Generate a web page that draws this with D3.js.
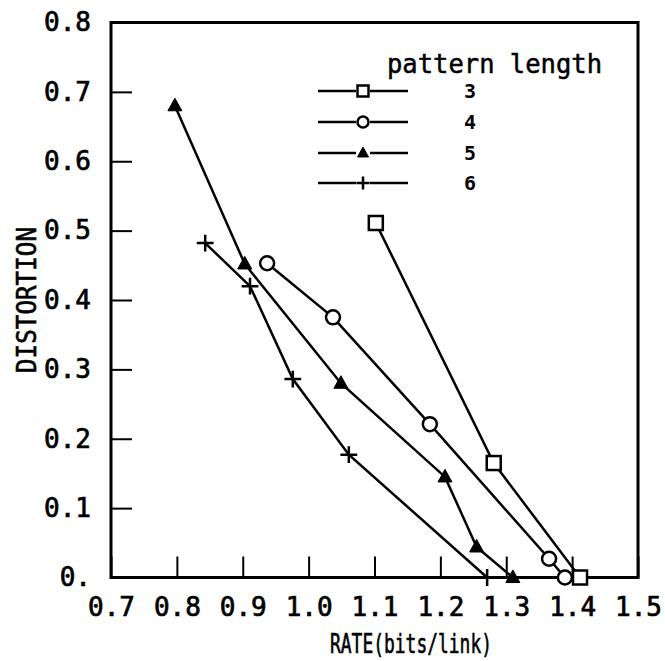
<!DOCTYPE html>
<html>
<head>
<meta charset="utf-8">
<script src="https://cdn.jsdelivr.net/npm/d3@7"></script>
<style>
  html, body { margin: 0; padding: 0; background: #fff; }
  svg { display: block; }
  text { font-family: "DejaVu Sans Mono", monospace; fill: #000; }
</style>
</head>
<body>
<svg id="chart" width="665" height="661"></svg>
<script>
// Rate–distortion curves for several pattern lengths
const xTicks = [0.7, 0.8, 0.9, 1.0, 1.1, 1.2, 1.3, 1.4, 1.5];
const xTickLabels = ["0.7", "0.8", "0.9", "1.0", "1.1", "1.2", "1.3", "1.4", "1.5"];
const yTicks = [0, 0.1, 0.2, 0.3, 0.4, 0.5, 0.6, 0.7, 0.8];
const yTickLabels = ["0.", "0.1", "0.2", "0.3", "0.4", "0.5", "0.6", "0.7", "0.8"];

const patternLengths = ["3", "4", "5", "6"];
const markerKinds = ["square", "circle", "triangle", "plus"];

const rate3 = [1.102, 1.281, 1.412];
const dist3 = [0.511, 0.165, 0.0];

const rate4 = [0.937, 1.037, 1.184, 1.365, 1.389];
const dist4 = [0.453, 0.375, 0.221, 0.027, 0.0];

const rate5 = [0.797, 0.903, 1.049, 1.207, 1.255, 1.310];
const dist5 = [0.680, 0.452, 0.280, 0.145, 0.044, 0.0];

const rate6 = [0.843, 0.911, 0.976, 1.061, 1.271];
const dist6 = [0.482, 0.420, 0.286, 0.177, 0.0];

const rates = [rate3, rate4, rate5, rate6];
const dists = [dist3, dist4, dist5, dist6];

const series = patternLengths.map((name, i) => ({
  name,
  kind: markerKinds[i],
  points: rates[i].map((r, j) => ({ r, d: dists[i][j] }))
}));

const svg = d3.select("#chart");
const plotLeft = 111, plotRight = 638, plotTop = 22.5, plotBottom = 577.5;

const x = d3.scaleLinear().domain([0.7, 1.5]).range([plotLeft, plotRight]);
const y = d3.scaleLinear().domain([0, 0.8]).range([plotBottom, plotTop]);

// axes with inward ticks
const xAxis = d3.axisBottom(x)
  .tickValues(xTicks)
  .tickFormat((d, i) => xTickLabels[i])
  .tickSizeInner(-21).tickSizeOuter(0).tickPadding(20);
const yAxis = d3.axisLeft(y)
  .tickValues(yTicks)
  .tickFormat((d, i) => yTickLabels[i])
  .tickSizeInner(-21).tickSizeOuter(0).tickPadding(20);

const gx = svg.append("g").attr("transform", `translate(0,${plotBottom})`).call(xAxis);
const gy = svg.append("g").attr("transform", `translate(${plotLeft},0)`).call(yAxis);
[gx, gy].forEach(g => {
  g.select(".domain").remove();
  g.selectAll(".tick line").attr("stroke", "#000").attr("stroke-width", 2);
  g.selectAll(".tick text")
    .attr("font-family", "DejaVu Sans Mono, monospace")
    .attr("font-size", 26)
    .attr("fill", "#000")
    .attr("stroke", "#000").attr("stroke-width", 0.7);
});

// plot frame
svg.append("rect")
  .attr("x", plotLeft).attr("y", plotTop)
  .attr("width", plotRight - plotLeft).attr("height", plotBottom - plotTop)
  .attr("fill", "none").attr("stroke", "#000").attr("stroke-width", 3);

// axis titles
svg.append("text")
  .attr("x", 330).attr("y", 653)
  .attr("font-size", 27)
  .attr("stroke", "#000").attr("stroke-width", 0.6)
  .attr("textLength", 162).attr("lengthAdjust", "spacingAndGlyphs")
  .text("RATE(bits/link)");

svg.append("text")
  .attr("transform", "translate(36,373) rotate(-90)")
  .attr("font-size", 27)
  .attr("stroke", "#000").attr("stroke-width", 0.6)
  .attr("textLength", 146).attr("lengthAdjust", "spacingAndGlyphs")
  .text("DISTORTION");

// marker drawing
function drawMarker(g, kind, cx, cy, s) {
  if (kind === "square") {
    g.append("rect")
      .attr("x", cx - s / 2).attr("y", cy - s / 2)
      .attr("width", s).attr("height", s)
      .attr("fill", "#fff").attr("stroke", "#000").attr("stroke-width", 2.5);
  } else if (kind === "circle") {
    g.append("circle")
      .attr("cx", cx).attr("cy", cy).attr("r", s / 2)
      .attr("fill", "#fff").attr("stroke", "#000").attr("stroke-width", 2.5);
  } else if (kind === "triangle") {
    const h = s * 0.9;
    g.append("path")
      .attr("d", `M${cx},${cy - h * 0.6}L${cx + s / 2},${cy + h * 0.4}L${cx - s / 2},${cy + h * 0.4}Z`)
      .attr("fill", "#000").attr("stroke", "#000").attr("stroke-width", 1);
  } else {
    const a = s * 0.6;
    g.append("path")
      .attr("d", `M${cx - a},${cy}H${cx + a}M${cx},${cy - a}V${cy + a}`)
      .attr("fill", "none").attr("stroke", "#000").attr("stroke-width", 2.5);
  }
}

const line = d3.line().x(p => x(p.r)).y(p => y(p.d));

const plot = svg.append("g");
series.forEach(s => {
  plot.append("path")
    .attr("d", line(s.points))
    .attr("fill", "none").attr("stroke", "#000").attr("stroke-width", 2.5);
});
series.forEach(s => {
  const g = plot.append("g");
  s.points.forEach(p => drawMarker(g, s.kind, x(p.r), y(p.d), 14));
});

// legend
const legend = svg.append("g");
legend.append("text")
  .attr("x", 387).attr("y", 73)
  .attr("font-size", 26)
  .attr("stroke", "#000").attr("stroke-width", 0.5)
  .attr("textLength", 215).attr("lengthAdjust", "spacingAndGlyphs")
  .text("pattern length");

const rowY = [91, 122, 153, 183];
series.forEach((s, i) => {
  const ly = rowY[i];
  legend.append("line").attr("x1", 318).attr("x2", 356).attr("y1", ly).attr("y2", ly)
    .attr("stroke", "#000").attr("stroke-width", 2.5);
  legend.append("line").attr("x1", 370).attr("x2", 408).attr("y1", ly).attr("y2", ly)
    .attr("stroke", "#000").attr("stroke-width", 2.5);
  drawMarker(legend, s.kind, 363, ly, 11);
  legend.append("text")
    .attr("x", 470).attr("y", ly)
    .attr("dy", "0.36em")
    .attr("text-anchor", "middle")
    .attr("font-size", 20)
    .attr("font-weight", "bold")
    .text(s.name);
});
</script>
</body>
</html>
